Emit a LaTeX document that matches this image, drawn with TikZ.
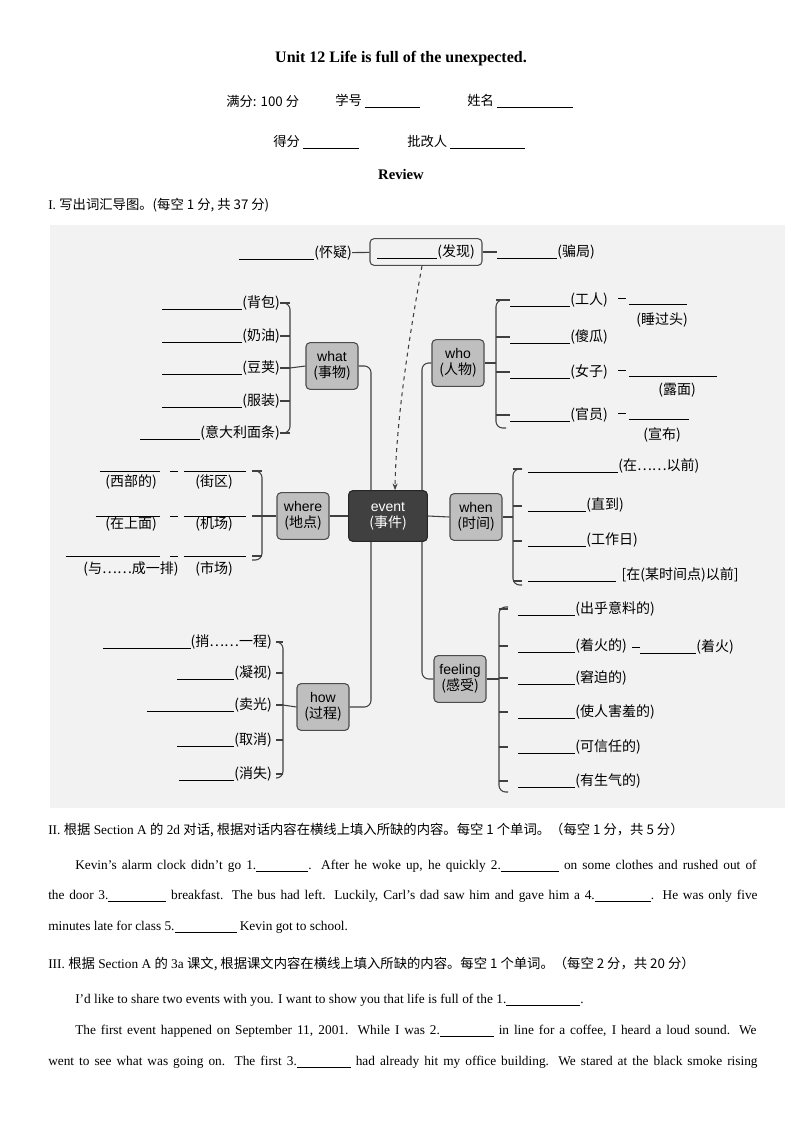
\documentclass[tikz,border=0pt]{standalone}
\usepackage{fontspec}
\setmainfont{Liberation Serif}
\newfontfamily\cjk{Noto Sans CJK SC}
\newfontfamily\arl{Liberation Sans}
\usetikzlibrary{arrows.meta}
\newcommand{\bl}[1]{\rule[-1.5pt]{\dimexpr 0.75pt*#1\relax}{0.5pt}}
\newcommand{\dsh}{\rule[3pt]{6pt}{0.7pt}}

\tikzset{
	lbl/.style={inner sep=0pt, font=\fontsize{10.5}{12}\selectfont\cjk},
	txt/.style={inner sep=0pt, anchor=west, font=\fontsize{10}{12}\selectfont},
	catbox/.style={draw=black!70, fill=black!25, rounded corners=3pt, line width=0.8pt, minimum width=39pt, minimum height=35pt, align=center, inner sep=1pt, font=\fontsize{10.5}{12}\selectfont\arl},
	conn/.style={black!75, line width=0.8pt, rounded corners=5pt},
}

\begin{document}
\begin{tikzpicture}[x=0.75pt, y=-0.75pt]
	\useasboundingbox (0,0) rectangle (794,1123);
	% header
	\node[inner sep=0pt, font=\fontsize{12}{14}\selectfont\bfseries] (title) at (401,59) {Unit 12 Life is full of the unexpected.};
	\node[txt] (full) at (226,101) {\cjk 满分: 100 分};
	\node[txt] (num) at (335,101) {\cjk 学号 \bl{55}};
	\node[txt] (name) at (467,101) {\cjk 姓名 \bl{76}};
	\node[txt] (score) at (273,142) {\cjk 得分 \bl{56}};
	\node[txt] (mark) at (407,142) {\cjk 批改人 \bl{75}};
	\node[inner sep=0pt, font=\fontsize{11}{13}\selectfont\bfseries] (review) at (401,174) {Review};
	\node[txt] (sec1) at (48,205) {I. {\cjk 写出词汇导图。(每空 1 分, 共 37 分)}};

	% mind map
	\fill[black!5] (50,225) rectangle (785,808);
	\node[catbox, fill=black!75, draw=black!85, text=white, minimum width=59pt, minimum height=38pt] (event) at (388,516) {event\\{\cjk (事件)}};
	\node[catbox] (what) at (332,366) {what\\{\cjk (事物)}};
	\node[catbox] (who) at (458,363) {who\\{\cjk (人物)}};
	\node[catbox] (where) at (303,516) {where\\{\cjk (地点)}};
	\node[catbox] (when) at (476,517) {when\\{\cjk (时间)}};
	\node[catbox] (how) at (323,707) {how\\{\cjk (过程)}};
	\node[catbox] (feel) at (460,679) {feeling\\{\cjk (感受)}};

	% top: find
	\node[draw=black!70, rounded corners=3pt, line width=0.8pt, minimum width=84pt, minimum height=20pt, inner sep=1pt, lbl] (find) at (426,252) {\bl{60}(发现)};
	\node[lbl, anchor=east] (doubt) at (352,253) {\bl{75}(怀疑)};
	\node[lbl, anchor=west] (trick) at (497,252) {\bl{60}(骗局)};
	\draw[conn] (doubt) -- (find);
	\draw[conn] (find) -- (trick);
	\draw[conn, dashed, -{Stealth[length=5pt]}] ([xshift=-3pt]find.south) .. controls (405,360) and (396,430) .. (event.north -| 395,0);

	% what
	\foreach \y/\t/\w in {303/背包/80, 336/奶油/80, 368/豆荚/80, 401/服装/80, 433/意大利面条/60} {
		\node[lbl, anchor=east] (wh\y) at (280,\y) {\bl{\w}(\t)};
		\draw[conn] (wh\y.east) -- (290,\y);
	}
	\draw[conn] (282,303) -- (290,303) -- (290,433) -- (282,433);
	\draw[conn] (290,368) -- (what.west);
	\draw[conn] (what.east) -| (event.north -| 371,0);

	% who
	\node[lbl, anchor=west] (wo1) at (510,300) {\bl{60}(工人)};
	\node[lbl, anchor=west] (wo2) at (510,337) {\bl{60}(傻瓜)};
	\node[lbl, anchor=west] (wo3) at (510,372) {\bl{60}(女子)};
	\node[lbl, anchor=west] (wo4) at (510,415) {\bl{60}(官员)};
	\foreach \n/\y in {1/300, 2/337, 3/372, 4/415} \draw[conn] (496,\y) -- (wo\n.west);
	\draw[conn] (506,300) -- (496,300) -- (496,428) -- (506,428);
	\draw[conn] (who.east) -- (496,363);
	\draw[conn] (who.west) -| (event.north -| 422,0);
	\node[lbl, anchor=west] (wd1) at (618,301) {\dsh\ \bl{58}};
	\node[lbl] (wl1) at (662,320) {(睡过头)};
	\node[lbl, anchor=west] (wd3) at (618,373) {\dsh\ \bl{88}};
	\node[lbl] (wl3) at (677,390) {(露面)};
	\node[lbl, anchor=west] (wd4) at (618,416) {\dsh\ \bl{60}};
	\node[lbl] (wl4) at (662,435) {(宣布)};

	% where
	\foreach \y/\a/\b/\ya/\w in {471/西部的/街区/482/60, 516/在上面/机场/524/64, 556/与……成一排/市场/569/94} {
		\node[lbl] (wa\y) at (131,\ya) {(\a)};
		\node[lbl] (wb\y) at (214,\ya) {(\b)};
		\node[lbl, anchor=east] (wla\y) at (160,\y) {\bl{\w}};
		\node[lbl, anchor=west] (wlb\y) at (184,\y) {\bl{62}};
		\node[lbl] (wdash\y) at (174,\y+2) {\dsh};
		\draw[conn] (252,\y) -- (262,\y);
	}
	\draw[conn] (252,471) -- (262,471) -- (262,560) -- (252,560);
	\draw[conn] (262,516) -- (where.west);
	\draw[conn] (where.east) -- (event.west);

	% when
	\node[lbl, anchor=west] (wn1) at (528,466) {\bl{90}(在……以前)};
	\node[lbl, anchor=west] (wn2) at (528,505) {\bl{58}(直到)};
	\node[lbl, anchor=west] (wn3) at (528,540) {\bl{58}(工作日)};
	\node[lbl, anchor=west] (wn4) at (528,575) {\bl{88}\hspace{4pt}[在(某时间点)以前]};
	\foreach \n/\y in {1/469, 2/506, 3/541, 4/581} \draw[conn] (513,\y) -- (522,\y);
	\draw[conn] (522,469) -- (513,469) -- (513,585) -- (522,585);
	\draw[conn] (event.east) -- (when.west);
	\draw[conn] (when.east) -- (513,517);

	% how
	\foreach \y/\t/\w in {642/捎……一程/88, 673/凝视/57, 705/卖光/87, 740/取消/57, 774/消失/55} {
		\node[lbl, anchor=east] (hw\y) at (272,\y) {\bl{\w}(\t)};
		\draw[conn] (276,\y) -- (283,\y);
	}
	\draw[conn] (276,642) -- (283,642) -- (283,778) -- (276,778);
	\draw[conn] (283,705) -- (how.west);
	\draw[conn] (how.east) -| (event.south -| 371,0);

	% feeling
	\foreach \y/\t in {609/出乎意料的, 646/着火的, 678/窘迫的, 712/使人害羞的, 747/可信任的, 781/有生气的} {
		\node[lbl, anchor=west] (fl\y) at (518,\y) {\bl{57}(\t)};
		\draw[conn] (499,\y) -- (508,\y);
	}
	\draw[conn] (508,607) -- (499,607) -- (499,792) -- (508,792);
	\draw[conn] (feel.east) -- (499,679);
	\draw[conn] (event.south -| 422,0) |- (feel.west);
	\node[lbl, anchor=west] (fd) at (632,647) {\dsh\bl{56}(着火)};

	% section II
	\node[txt] (sec2) at (48,830) {II. {\cjk 根据} Section A {\cjk 的} 2d {\cjk 对话, 根据对话内容在横线上填入所缺的内容。每空 1 个单词。（每空 1 分，共 5 分）}};
	\node[txt] (p21) at (75,866) {\makebox[511pt][s]{Kevin’s alarm clock didn't go 1.\bl{52}. After he woke up, he quickly 2.\bl{58} on some clothes and rushed out of}};
	\node[txt] (p22) at (48,896) {\makebox[532pt][s]{the door 3.\bl{58} breakfast. The bus had left. Luckily, Carl's dad saw him and gave him a 4.\bl{56}. He was only five}};
	\node[txt] (p23) at (48,927) {minutes late for class 5.\bl{62} Kevin got to school.};

	% section III
	\node[txt] (sec3) at (48,964) {III. {\cjk 根据} Section A {\cjk 的} 3a {\cjk 课文, 根据课文内容在横线上填入所缺的内容。每空 1 个单词。（每空 2 分，共 20 分）}};
	\node[txt] (p31) at (75,1000) {I'd like to share two events with you. I want to show you that life is full of the 1.\bl{74}.};
	\node[txt] (p32) at (75,1031) {\makebox[511pt][s]{The first event happened on September 11, 2001. While I was 2.\bl{54} in line for a coffee, I heard a loud sound. We}};
	\node[txt] (p33) at (48,1062) {\makebox[532pt][s]{went to see what was going on. The first 3.\bl{54} had already hit my office building. We stared at the black smoke rising}};
\end{tikzpicture}
\end{document}
